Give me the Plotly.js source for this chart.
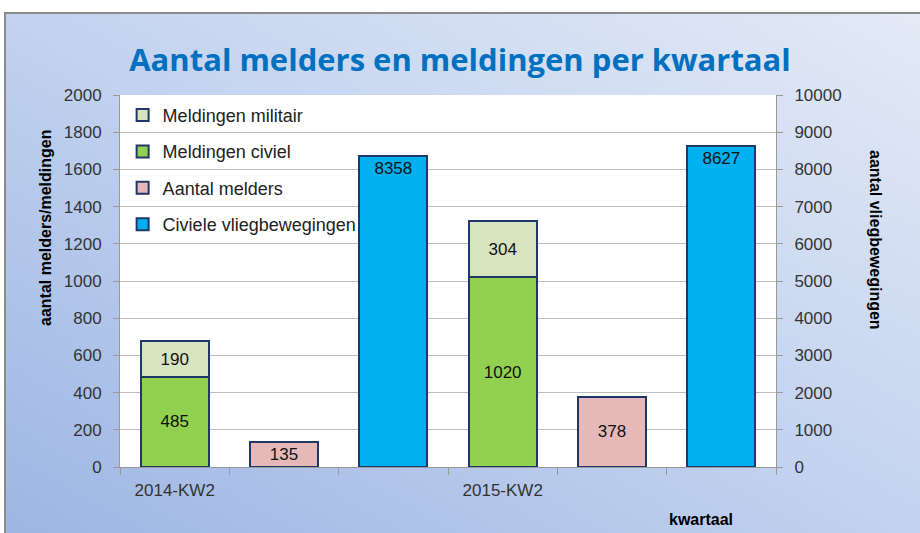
<!DOCTYPE html>
<html>
<head>
<meta charset="utf-8">
<script src="https://cdn.plot.ly/plotly-3.0.1.min.js"></script>
<style>
  html, body { margin: 0; padding: 0; background: #ffffff; width: 920px; height: 533px; overflow: hidden; }
  #bg { position: absolute; left: 4px; top: 12px; width: 920px; height: 530px;
        border-left: 2px solid #8a8a8a; border-top: 2px solid #8a8a8a;
        background: linear-gradient(to top right, #9cb5e3 0%, #c2d2ef 50%, #e4eaf6 100%); }
  #chart { position: absolute; left: 0; top: 0; width: 920px; height: 533px; }
</style>
</head>
<body>
<div id="bg"></div>
<div id="chart"></div>
<script>
// ---- data ----
const slots = ['2014-KW2', '2014-KW2 melders', '2014-KW2 vlieg', '2015-KW2', '2015-KW2 melders', '2015-KW2 vlieg'];
const slotLabels = ['2014-KW2', '', '', '2015-KW2', '', ''];
const meldingenSlots = ['2014-KW2', '2015-KW2'];
const meldersSlots = ['2014-KW2 melders', '2015-KW2 melders'];
const vliegSlots = ['2014-KW2 vlieg', '2015-KW2 vlieg'];
const meldingenCiviel = [485, 1020];
const meldingenMilitair = [190, 304];
const aantalMelders = [135, 378];
const civieleVliegbewegingen = [8358, 8627];
const leftTicks = [0, 200, 400, 600, 800, 1000, 1200, 1400, 1600, 1800, 2000];
const rightTicks = [0, 1000, 2000, 3000, 4000, 5000, 6000, 7000, 8000, 9000, 10000];

const edge = { color: '#1f3868', width: 2 };
const txtFont = { family: 'Liberation Sans, Arial, sans-serif', size: 17, color: '#111' };
const common = { type: 'bar', width: 0.62, textposition: 'inside', textfont: txtFont,
                 constraintext: 'none', hoverinfo: 'skip', cliponaxis: false };

const traces = [
  Object.assign({}, common, { name: 'Meldingen civiel', x: meldingenSlots, y: meldingenCiviel,
    text: meldingenCiviel.map(String), insidetextanchor: 'middle',
    marker: { color: '#92d050', line: edge }, legendrank: 2, legendgroup: 'b' }),
  Object.assign({}, common, { name: 'Meldingen militair', x: meldingenSlots, y: meldingenMilitair,
    text: meldingenMilitair.map(String), insidetextanchor: 'middle',
    marker: { color: '#d7e4bd', line: edge }, legendrank: 1, legendgroup: 'a' }),
  Object.assign({}, common, { name: 'Aantal melders', x: meldersSlots, y: aantalMelders,
    text: aantalMelders.map(String), insidetextanchor: 'middle',
    marker: { color: '#e6b9b8', line: edge }, legendrank: 3, legendgroup: 'c' }),
  Object.assign({}, common, { name: 'Civiele vliegbewegingen', x: vliegSlots, y: civieleVliegbewegingen,
    text: civieleVliegbewegingen.map(String), insidetextanchor: 'end', yaxis: 'y2',
    marker: { color: '#00b0f0', line: edge }, legendrank: 4, legendgroup: 'd' })
];

const tickFont = { family: 'Liberation Sans, Arial, sans-serif', size: 17, color: '#333' };
const boldFont = { family: 'Liberation Sans, Arial, sans-serif', size: 16, color: '#000', weight: 'bold' };

const layout = {
  width: 920, height: 533,
  margin: { l: 120, r: 144, t: 95, b: 66 },
  paper_bgcolor: 'rgba(0,0,0,0)',
  plot_bgcolor: '#ffffff',
  barmode: 'stack',
  showlegend: true,
  title: { text: 'Aantal melders en meldingen per kwartaal', x: 0.5, xanchor: 'center',
           y: 1 - 60 / 533, yanchor: 'middle', yref: 'container',
           font: { family: 'Open Sans, Noto Sans, sans-serif', size: 31, color: '#0070c0', weight: 'bold' } },
  xaxis: { type: 'category', categoryorder: 'array', categoryarray: slots,
           tickmode: 'array', tickvals: slots, ticktext: slotLabels, tickson: 'boundaries',
           ticks: 'outside', ticklen: 7, tickcolor: '#999', showline: true, linecolor: '#999', linewidth: 1,
           showgrid: false, tickfont: tickFont, ticklabelstandoff: 8, range: [-0.5, 5.5], fixedrange: true },
  yaxis: { range: [0, 2000], tickmode: 'array', tickvals: leftTicks, ticktext: leftTicks.map(String),
           ticks: 'outside', ticklen: 6, tickcolor: '#999', showline: true, linecolor: '#999',
           showgrid: true, gridcolor: '#bdbdbd', gridwidth: 1, zeroline: false, tickfont: tickFont,
           ticklabelstandoff: 8 },
  yaxis2: { range: [0, 10000], overlaying: 'y', side: 'right', tickmode: 'array', tickvals: rightTicks,
            ticktext: rightTicks.map(String), ticks: 'outside', ticklen: 6, tickcolor: '#999',
            showline: true, linecolor: '#999', showgrid: false, zeroline: false, tickfont: tickFont,
            ticklabelstandoff: 8 },
  legend: { x: 0.004, y: 0.995, xanchor: 'left', yanchor: 'top', bgcolor: 'rgba(0,0,0,0)',
            traceorder: 'grouped', tracegroupgap: 10, itemwidth: 30,
            font: { family: 'Liberation Sans, Arial, sans-serif', size: 18, color: '#222' } },
  annotations: [
    { text: 'aantal melders/meldingen', xref: 'paper', yref: 'paper', x: (45 - 120) / 656, y: (467 - 228) / 372,
      xanchor: 'center', yanchor: 'middle', textangle: -90, showarrow: false, font: boldFont },
    { text: 'aantal vliegbewegingen', xref: 'paper', yref: 'paper', x: (876 - 120) / 656, y: (467 - 240) / 372,
      xanchor: 'center', yanchor: 'middle', textangle: 90, showarrow: false, font: boldFont },
    { text: 'kwartaal', xref: 'paper', yref: 'paper', x: (701 - 120) / 656, y: (467 - 519) / 372,
      xanchor: 'center', yanchor: 'middle', showarrow: false, font: boldFont }
  ]
};

Plotly.newPlot('chart', traces, layout, { displayModeBar: false, staticPlot: true });
</script>
</body>
</html>
